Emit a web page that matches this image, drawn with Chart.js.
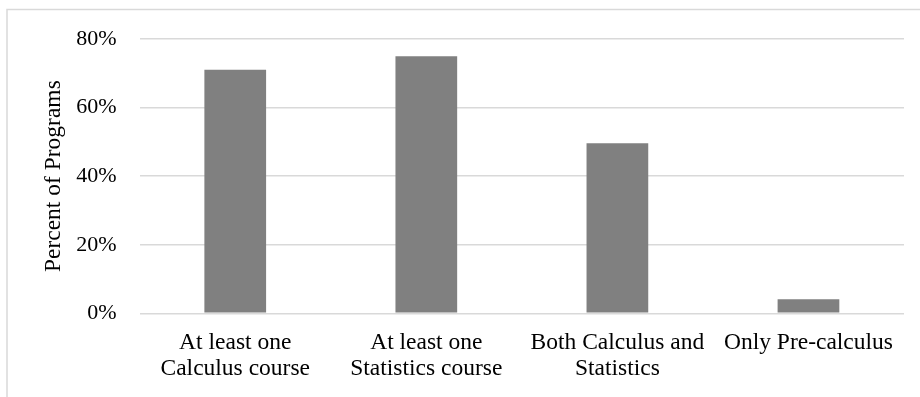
<!DOCTYPE html>
<html>
<head>
<meta charset="utf-8">
<script src="https://cdn.jsdelivr.net/npm/chart.js@4"></script>
<style>
  html, body { margin: 0; padding: 0; background: #fff; }
  canvas { display: block; }
</style>
</head>
<body>
<canvas id="chart" width="920" height="397"></canvas>
<script>
// Course requirements of programs (percent of programs)
const categories = [
  ["At least one", "Calculus course"],
  ["At least one", "Statistics course"],
  ["Both Calculus and", "Statistics"],
  "Only Pre-calculus"
];
const percentOfPrograms = [71, 75, 49.6, 4.1];
const yTicks = [0, 20, 40, 60, 80];

const FONT = "'Liberation Serif', 'Times New Roman', serif";

// White background plus the thin outer frame of the chart object
const framePlugin = {
  id: 'frame',
  beforeDraw(chart) {
    const ctx = chart.ctx;
    ctx.save();
    ctx.fillStyle = '#ffffff';
    ctx.fillRect(0, 0, chart.width, chart.height);
    ctx.strokeStyle = '#d9d9d9';
    ctx.lineWidth = 1.5;
    ctx.beginPath();
    ctx.moveTo(7, chart.height + 2);
    ctx.lineTo(7, 9.5);
    ctx.lineTo(chart.width + 2, 9.5);
    ctx.stroke();
    ctx.restore();
  }
};

new Chart(document.getElementById('chart'), {
  type: 'bar',
  data: {
    labels: categories,
    datasets: [{
      data: percentOfPrograms,
      backgroundColor: '#808080',
      borderWidth: 0,
      categoryPercentage: 1,
      barPercentage: 0.323
    }]
  },
  options: {
    responsive: false,
    animation: false,
    devicePixelRatio: 1,
    layout: { padding: { top: 39, right: 16, bottom: 0, left: 0 } },
    plugins: {
      legend: { display: false },
      tooltip: { enabled: false }
    },
    scales: {
      x: {
        grid: { display: false, drawTicks: false },
        border: { display: false },
        ticks: {
          color: '#000000',
          font: { family: FONT, size: 23.5, lineHeight: 1.1 },
          padding: 16.6,
          maxRotation: 0,
          minRotation: 0,
          autoSkip: false
        },
        afterFit(scale) { scale.height = 83.7; }
      },
      y: {
        min: 0,
        max: 80,
        afterBuildTicks(scale) {
          scale.ticks = yTicks.map(v => ({ value: v }));
        },
        grid: { color: '#d9d9d9', lineWidth: 1.5, drawTicks: false },
        border: { display: false },
        ticks: {
          color: '#000000',
          font: { family: FONT, size: 22 },
          padding: 23,
          callback: v => v + '%'
        },
        title: {
          display: true,
          text: 'Percent of Programs',
          color: '#000000',
          font: { family: FONT, size: 23.5 },
          padding: { top: 39.6, bottom: 4 }
        },
        afterFit(scale) { scale.width = 139.7; }
      }
    }
  },
  plugins: [framePlugin]
});
</script>
</body>
</html>
